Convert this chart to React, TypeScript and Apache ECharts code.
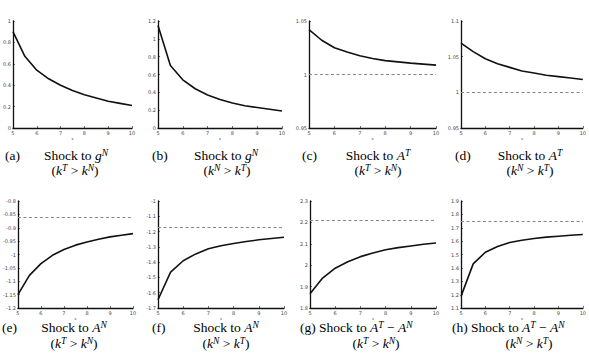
import React, { useEffect, useRef } from "react";
import * as echarts from "echarts";

// x grid (periods)
const X = [5, 5.5, 6, 6.5, 7, 7.5, 8, 8.5, 9, 9.5, 10];
const X_TICKS = [5, 6, 7, 8, 9, 10];

// series values
const seriesA = [0.9, 0.67, 0.54, 0.46, 0.4, 0.35, 0.31, 0.28, 0.25, 0.23, 0.21];
const seriesB = [1.15, 0.7, 0.54, 0.44, 0.37, 0.32, 0.28, 0.25, 0.23, 0.21, 0.19];
const seriesC = [1.042, 1.032, 1.025, 1.021, 1.0175, 1.015, 1.013, 1.0118, 1.0106, 1.0097, 1.0088];
const seriesD = [1.069, 1.057, 1.047, 1.04, 1.035, 1.03, 1.027, 1.024, 1.022, 1.02, 1.018];
const seriesE = [-1.15, -1.078, -1.034, -1.003, -0.981, -0.965, -0.953, -0.943, -0.934, -0.928, -0.922];
const seriesF = [-1.646, -1.465, -1.391, -1.346, -1.313, -1.293, -1.278, -1.265, -1.254, -1.245, -1.237];
const seriesG = [1.867, 1.94, 1.986, 2.016, 2.04, 2.057, 2.072, 2.082, 2.09, 2.098, 2.104];
const seriesH = [1.187, 1.43, 1.517, 1.56, 1.59, 1.607, 1.62, 1.63, 1.637, 1.644, 1.65];

// steady-state (dashed) levels
const steadyLevels = [null, null, 1, 1, -0.857, -1.172, 2.215, 1.75];

// y-axis ranges
const yMins = [0, 0, 0.95, 0.95, -1.2, -1.7, 1.8, 1.1];
const yMaxs = [1, 1.2, 1.05, 1.1, -0.8, -1.0, 2.3, 1.9];
const yIntervals = [0.2, 0.2, 0.05, 0.05, 0.05, 0.1, 0.1, 0.1];

// captions
const letters = ["a", "b", "c", "d", "e", "f", "g", "h"];
const shockTargets = [
  ["g", "N", null],
  ["g", "N", null],
  ["A", "T", null],
  ["A", "T", null],
  ["A", "N", null],
  ["A", "N", null],
  ["A", "T", "N"],
  ["A", "T", "N"],
];
const orderings = ["TN", "NT", "TN", "NT", "TN", "NT", "TN", "NT"];

const allSeries = [seriesA, seriesB, seriesC, seriesD, seriesE, seriesF, seriesG, seriesH];

// layout (pixels)
const gridLefts = [6, 158, 309, 461, 6, 158, 310, 461];
const gridRights = [132, 282, 436, 587, 133, 284, 436, 587];
const gridTops = [21, 21, 21, 21, 201, 201, 201, 201];
const gridBottoms = [128, 128, 128, 128, 308, 308, 308, 308];
const letterX = [5, 152, 302, 455, 2, 152, 300, 452];
const shockCenterX = [76, 226, 378, 530, 74, 226, 0, 0];
const line2CenterX = [75, 227, 378, 530, 74, 226, 376, 529];
const line1Y = [155, 155, 155, 155, 327, 327, 327, 327];
const line2Y = [170, 170, 170, 170, 343, 343, 343, 343];

const FONT = "Liberation Serif";
const rich = {
  r: { fontFamily: FONT, fontSize: 13.5, color: "#000", lineHeight: 14 },
  i: { fontFamily: FONT, fontSize: 13.5, fontStyle: "italic", color: "#000", lineHeight: 14 },
  s: { fontFamily: FONT, fontSize: 9.5, fontStyle: "italic", color: "#000", lineHeight: 6, verticalAlign: "top" },
};

function shockText(idx: number) {
  const [v, sup, sup2] = shockTargets[idx];
  let t = `{r|Shock to }{i|${v}}{s|${sup}}`;
  if (sup2) t += `{r| − }{i|${v}}{s|${sup2}}`;
  return t;
}
function orderText(idx: number) {
  const o = orderings[idx];
  return `{r|(}{i|k}{s|${o[0]}}{r| > }{i|k}{s|${o[1]}}{r|)}`;
}

export default function App() {
  const ref = useRef<HTMLDivElement>(null);
  useEffect(() => {
    document.body.style.margin = "0";
    const chart = echarts.init(ref.current!, undefined, { renderer: "svg" });
    const grids: any[] = [];
    const xAxes: any[] = [];
    const yAxes: any[] = [];
    const series: any[] = [];
    const graphics: any[] = [];
    allSeries.forEach((vals, i) => {
      grids.push({
        left: gridLefts[i],
        top: gridTops[i],
        width: gridRights[i] - gridLefts[i],
        height: gridBottoms[i] - gridTops[i],
        containLabel: false,
      });
      xAxes.push({
        type: "value",
        gridIndex: i,
        min: X_TICKS[0],
        max: X_TICKS[X_TICKS.length - 1],
        interval: 1,
        name: "s",
        nameLocation: "middle",
        nameGap: 8,
        nameTextStyle: { fontSize: 5, color: "#444", fontFamily: FONT },
        axisLine: { show: true, lineStyle: { color: "#111", width: 1.3 } },
        axisTick: { show: true, inside: true, length: 2, lineStyle: { color: "#111", width: 0.6 } },
        axisLabel: { fontSize: 5, color: "#444", margin: 2, fontFamily: "DejaVu Sans" },
        splitLine: { show: false },
      });
      yAxes.push({
        type: "value",
        gridIndex: i,
        min: yMins[i],
        max: yMaxs[i],
        interval: yIntervals[i],
        axisLine: { show: true, onZero: false, lineStyle: { color: "#111", width: 1.3 } },
        axisTick: { show: true, inside: true, length: 2, lineStyle: { color: "#111", width: 0.6 } },
        axisLabel: { fontSize: 5, color: "#444", margin: 2, fontFamily: "DejaVu Sans" },
        splitLine: { show: false },
      });
      const s: any = {
        type: "line",
        xAxisIndex: i,
        yAxisIndex: i,
        data: X.map((x, k) => [x, vals[k]]),
        symbol: "none",
        lineStyle: { color: "#111", width: 1.6 },
        silent: true,
      };
      if (steadyLevels[i] !== null) {
        s.markLine = {
          silent: true,
          symbol: "none",
          label: { show: false },
          lineStyle: { color: "#888", type: [3, 2.5], width: 1 },
          data: [{ yAxis: steadyLevels[i] }],
        };
      }
      series.push(s);

      // captions
      if (shockTargets[i][2]) {
        graphics.push({
          type: "text",
          x: letterX[i],
          y: line1Y[i],
          style: { text: `{r|(${letters[i]}) }` + shockText(i), rich, align: "left", verticalAlign: "middle" },
        });
      } else {
        graphics.push({
          type: "text",
          x: letterX[i],
          y: line1Y[i],
          style: { text: `{r|(${letters[i]})}`, rich, align: "left", verticalAlign: "middle" },
        });
        graphics.push({
          type: "text",
          x: shockCenterX[i],
          y: line1Y[i],
          style: { text: shockText(i), rich, align: "center", verticalAlign: "middle" },
        });
      }
      graphics.push({
        type: "text",
        x: line2CenterX[i],
        y: line2Y[i],
        style: { text: orderText(i), rich, align: "center", verticalAlign: "middle" },
      });
    });
    chart.setOption({
      animation: false,
      backgroundColor: "#fff",
      grid: grids,
      xAxis: xAxes,
      yAxis: yAxes,
      series,
      graphic: graphics,
    });
    return () => chart.dispose();
  }, []);
  return <div ref={ref} style={{ width: 589, height: 363 }} />;
}
